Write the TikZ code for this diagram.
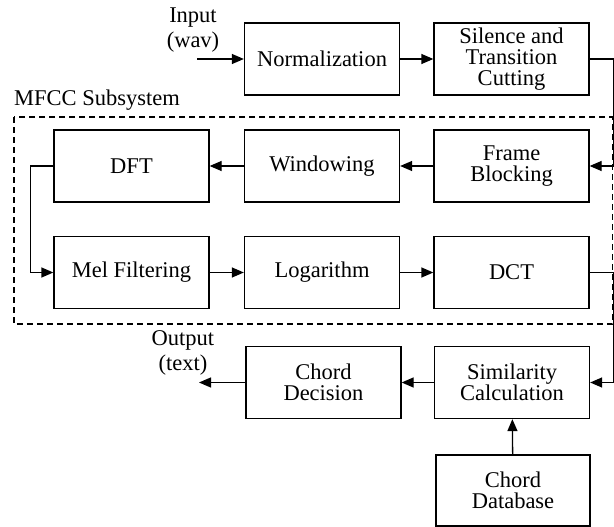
\documentclass[tikz,border=0pt]{standalone}
\usepackage{fontspec}
\setmainfont{Liberation Serif}
\usetikzlibrary{arrows.meta,calc}
\begin{document}
\begin{tikzpicture}[x=1pt,y=-1pt,
  blk/.style={draw,line width=1.3pt,minimum width=155pt,minimum height=72pt,inner sep=0pt,align=center,font=\fontsize{22.5}{21}\selectfont},
  lbl/.style={align=center,inner sep=0pt,font=\fontsize{22.5}{25}\selectfont},
  conn/.style={line width=1.3pt,-{Triangle[length=12pt,width=10pt]}},
  plain/.style={line width=1.3pt}]
\useasboundingbox (0,0) rectangle (614,527);
\node[blk] (norm) at (322,59) {Normalization};
\node[blk] (sil) at (511.5,59) {Silence and\\Transition\\Cutting};
\node[blk] (frame) at (511.5,166) {Frame\\Blocking};
\node[blk] (win) at (322,166) {Windowing};
\node[blk] (dft) at (131.5,166) {DFT};
\node[blk] (mel) at (131.5,272.5) {Mel Filtering};
\node[blk] (log) at (322,272.5) {Logarithm};
\node[blk] (dct) at (511.5,272.5) {DCT};
\node[blk] (sim) at (512,382.5) {Similarity\\Calculation};
\node[blk] (dec) at (323.5,382.5) {Chord\\Decision};
\node[blk,minimum width=154pt,minimum height=71pt] (db) at (513,490.5) {Chord\\Database};
\draw[dashed,line width=1.1pt,dash pattern=on 6pt off 4pt] (14,117) rectangle (612.5,324);
\node[lbl,anchor=west] (mfcc) at (14,100) {MFCC Subsystem};
\node[lbl] (inlbl) at (193,30) {Input\\(wav)};
\node[lbl] (outlbl) at (183,353) {Output\\(text)};
\coordinate (instart) at (197,59);
\coordinate (outend) at (199,382.5);
\draw[conn] (instart) -- (norm.west);
\draw[conn] (norm) -- (sil);
\draw[conn] (sil.east) -- ++(23.5,0) |- (frame.east);
\draw[conn] (frame) -- (win);
\draw[conn] (win) -- (dft);
\draw[conn] (dft.west) -- ++(-23,0) |- (mel.west);
\draw[conn] (mel) -- (log);
\draw[conn] (log) -- (dct);
\draw[conn] (dct.east) -- ++(23.5,0) |- (sim.east);
\draw[conn] (sim) -- (dec);
\draw[conn] (dec.west) -- (outend);
\draw[conn] (db) -- (sim);
\end{tikzpicture}
\end{document}
